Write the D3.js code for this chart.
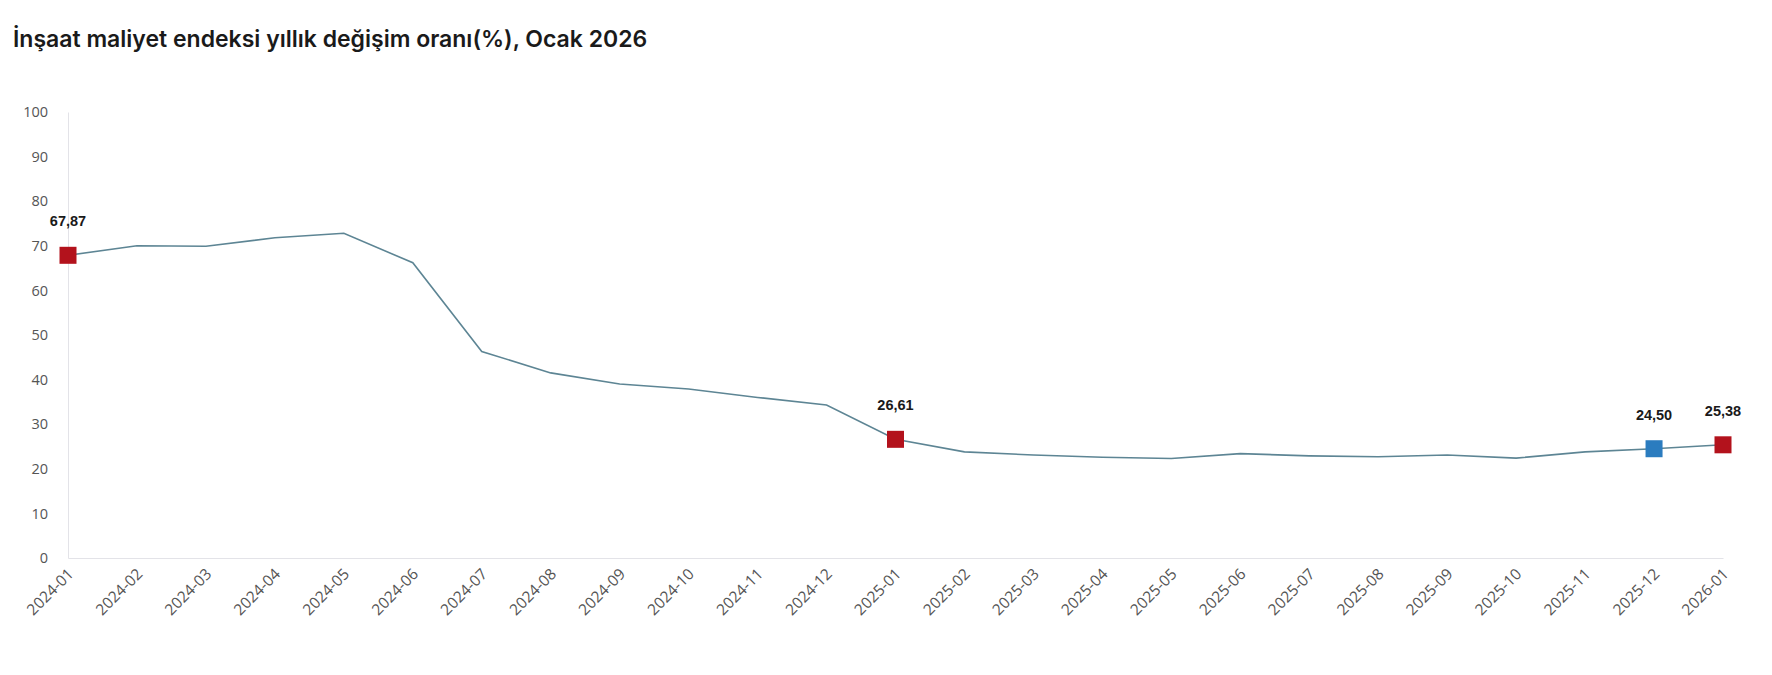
<!DOCTYPE html>
<html lang="tr">
<head>
<meta charset="utf-8">
<script src="https://cdn.jsdelivr.net/npm/d3@7"></script>
<style>
  body { margin: 0; background: #fff; }
  #chart text { font-family: "Open Sans", sans-serif; }
</style>
</head>
<body>
<div id="chart"></div>
<script>
// Data
const months = ['2024-01', '2024-02', '2024-03', '2024-04', '2024-05', '2024-06', '2024-07', '2024-08',
  '2024-09', '2024-10', '2024-11', '2024-12', '2025-01', '2025-02', '2025-03', '2025-04', '2025-05',
  '2025-06', '2025-07', '2025-08', '2025-09', '2025-10', '2025-11', '2025-12', '2026-01'];
const values = [67.87, 70.0, 69.9, 71.8, 72.8, 66.2, 46.3, 41.5, 39.0, 37.9, 36.0, 34.3, 26.61,
  23.8, 23.1, 22.6, 22.3, 23.4, 22.9, 22.7, 23.1, 22.4, 23.8, 24.50, 25.38];
const redMarks = ['2024-01', '2025-01', '2026-01'];
const blueMarks = ['2025-12'];
const yTicks = [0, 10, 20, 30, 40, 50, 60, 70, 80, 90, 100];

const W = 1772, H = 675;
const margin = {top: 112, right: 49, bottom: 117, left: 68};
const width = W - margin.left - margin.right;
const height = H - margin.top - margin.bottom;

const tr = d3.formatLocale({decimal: ',', thousands: '.', grouping: [3], currency: ['₺', '']});
const fmt = tr.format('.2f');

const root = d3.select('#chart')
  .append('svg')
  .attr('width', W)
  .attr('height', H);

root.append('text')
  .attr('x', 13)
  .attr('y', 47)
  .style('font-family', 'Inter, Roboto, sans-serif')
  .style('font-weight', 600)
  .style('font-size', '23px')
  .attr('fill', '#1a1a1a')
  .text('İnşaat maliyet endeksi yıllık değişim oranı(%), Ocak 2026');

const svg = root.append('g')
  .attr('transform', `translate(${margin.left},${margin.top})`);

const x = d3.scalePoint()
  .domain(months)
  .range([0, width]);

const y = d3.scaleLinear()
  .domain([0, 100])
  .range([height, 0]);

// Y axis
const yAxis = svg.append('g')
  .call(d3.axisLeft(y).tickValues(yTicks).tickSize(0).tickPadding(20));
yAxis.select('.domain').attr('stroke', '#e3e3e8');
yAxis.selectAll('text')
  .attr('fill', '#555')
  .style('font-size', '14.5px');

// X axis
const xAxis = svg.append('g')
  .attr('transform', `translate(0,${height})`)
  .call(d3.axisBottom(x).tickSize(0).tickPadding(0));
xAxis.select('.domain').attr('stroke', '#e3e3e8');
xAxis.selectAll('text')
  .attr('fill', '#555')
  .style('font-size', '15.5px')
  .style('text-anchor', 'end')
  .attr('dx', '0')
  .attr('dy', '0')
  .attr('transform', 'translate(6,17) rotate(-45)');

// Line
const line = d3.line()
  .x((d, i) => x(months[i]))
  .y(d => y(d));

svg.append('path')
  .datum(values)
  .attr('fill', 'none')
  .attr('stroke', '#5d8594')
  .attr('stroke-width', 1.6)
  .attr('d', line);

// Markers
const marked = months
  .map((m, i) => ({m, v: values[i]}))
  .filter(d => redMarks.includes(d.m) || blueMarks.includes(d.m));

const s = 17;
svg.selectAll('.mark')
  .data(marked)
  .enter()
  .append('rect')
  .attr('class', 'mark')
  .attr('x', d => x(d.m) - s / 2)
  .attr('y', d => y(d.v) - s / 2)
  .attr('width', s)
  .attr('height', s)
  .attr('fill', d => blueMarks.includes(d.m) ? '#2b7cbf' : '#b3121c');

svg.selectAll('.lbl')
  .data(marked)
  .enter()
  .append('text')
  .attr('class', 'lbl')
  .attr('x', d => x(d.m))
  .attr('y', d => y(d.v) - 29)
  .attr('text-anchor', 'middle')
  .style('font-family', '"Liberation Sans", Arial, sans-serif')
  .style('font-weight', 'bold')
  .style('font-size', '14.5px')
  .attr('fill', '#1a1a1a')
  .text(d => fmt(d.v));
</script>
</body>
</html>
